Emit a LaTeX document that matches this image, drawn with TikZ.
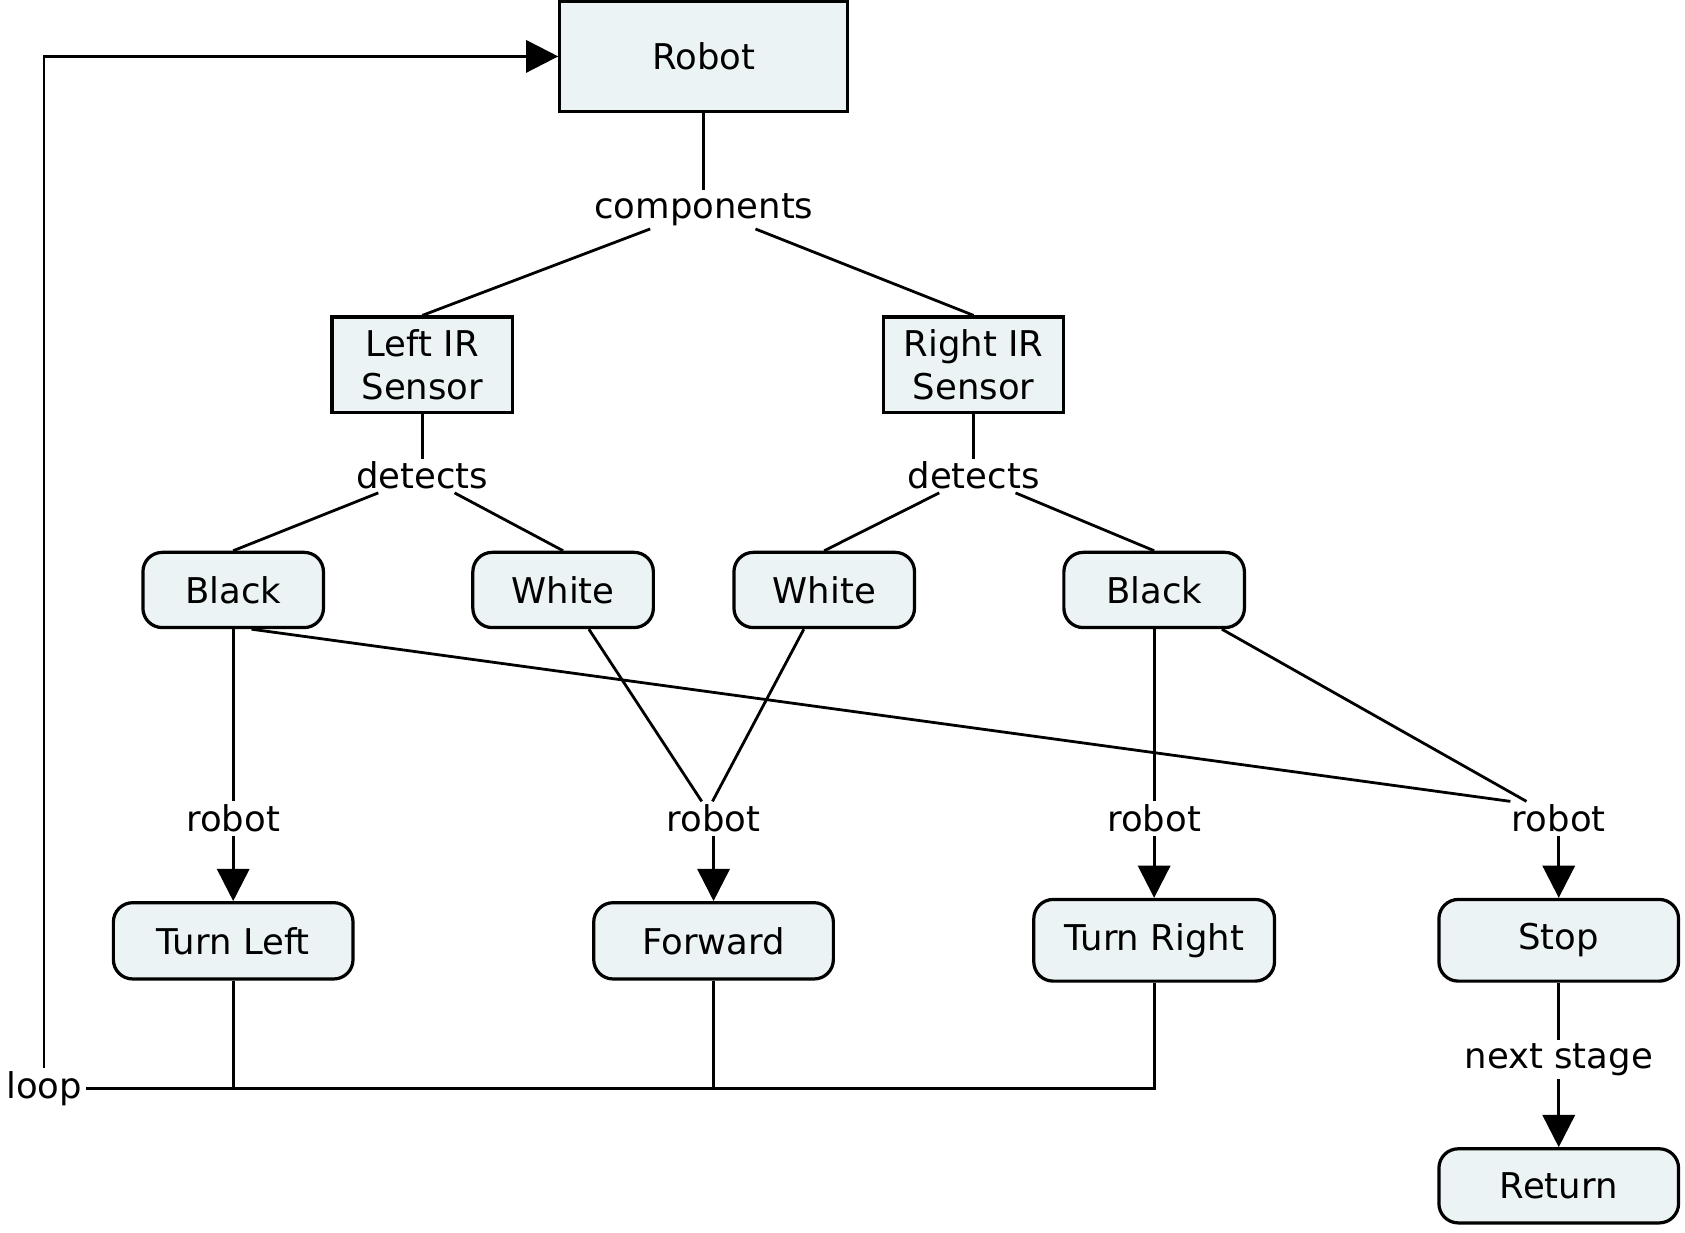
\documentclass[tikz,border=0pt]{standalone}
\usepackage{fontspec}
\setmainfont{DejaVu Sans}
\usetikzlibrary{arrows.meta,calc}
\definecolor{boxfill}{HTML}{EBF3F5}
\begin{document}
\begin{tikzpicture}[x=1pt,y=-1pt,
  every node/.style={font=\fontsize{33}{40}\selectfont},
  concept/.style={draw,line width=3pt,fill=boxfill,align=center,inner sep=0pt},
  sqbox/.style={concept},
  rbox/.style={concept,rounded corners=18pt},
  lbl/.style={inner xsep=4pt,inner ysep=3pt,anchor=base},
  conn/.style={line width=2.6pt},
  arr/.style={conn,-{Triangle[length=30pt,width=30pt]}}]
\fill[white] (0,0) rectangle (1568,1147);
\useasboundingbox (0,0) rectangle (1568,1147);

% concept nodes
\node[sqbox,minimum width=268pt,minimum height=103pt] (robot) at (655,52.5) {Robot};
\node[sqbox,minimum width=168pt,minimum height=89pt] (lsen) at (393,339.5) {Left IR\\Sensor};
\node[sqbox,minimum width=168pt,minimum height=89pt] (rsen) at (906,339.5) {Right IR\\Sensor};
\node[rbox,minimum width=168pt,minimum height=70pt] (black1) at (217,549) {Black};
\node[rbox,minimum width=168pt,minimum height=70pt] (white1) at (524,549) {White};
\node[rbox,minimum width=168pt,minimum height=70pt] (white2) at (767,549) {White};
\node[rbox,minimum width=168pt,minimum height=70pt] (black2) at (1074,549) {Black};
\node[rbox,minimum width=223pt,minimum height=71pt] (tl) at (217,875.5) {Turn Left};
\node[rbox,minimum width=223pt,minimum height=71pt] (fw) at (664,875.5) {Forward};
\node[rbox,minimum width=224pt,minimum height=76pt] (tr) at (1074,875) {Turn Right};
\node[rbox,minimum width=223pt,minimum height=76pt] (stop) at (1450.5,875) {Stop};
\node[rbox,minimum width=223pt,minimum height=69pt] (ret) at (1450.5,1103.5) {Return};

% linking phrases
\node[lbl] (comp) at (655,203) {components};
\node[lbl] (ldet) at (393,455) {detects};
\node[lbl] (rdet) at (906,455) {detects};
\node[lbl] (r1) at (217,774) {robot};
\node[lbl] (r2) at (664,774) {robot};
\node[lbl] (r3) at (1074,774) {robot};
\node[lbl] (r4) at (1450.5,774) {robot};
\node[lbl] (ns) at (1450.5,994) {next stage};
\node[lbl] (loop) at (41,1022) {loop};

% connectors
\draw[conn] (robot.south) -- (comp.north);
\draw[conn] ([xshift=-50pt]comp.south) -- (lsen.north);
\draw[conn] ([xshift=48pt]comp.south) -- (rsen.north);
\draw[conn] (lsen.south) -- (ldet.north);
\draw[conn] (rsen.south) -- (rdet.north);
\draw[conn] ([xshift=-41pt]ldet.south) -- (black1.north);
\draw[conn] ([xshift=30pt]ldet.south) -- (white1.north);
\draw[conn] ([xshift=-32pt]rdet.south) -- (white2.north);
\draw[conn] ([xshift=39pt]rdet.south) -- (black2.north);
\draw[conn] (black1.south) -- (r1.north);
\draw[conn] ([xshift=17pt]black1.south) -- ([xshift=-45pt]r4.north);
\draw[conn] ([xshift=24pt]white1.south) -- ([xshift=-11pt]r2.north);
\draw[conn] ([xshift=-19pt]white2.south) -- ([xshift=-1pt]r2.north);
\draw[conn] (black2.south) -- (r3.north);
\draw[conn] ([xshift=63pt]black2.south) -- ([xshift=-30pt]r4.north);
\draw[arr] (r1.south) -- (tl.north);
\draw[arr] (r2.south) -- (fw.north);
\draw[arr] (r3.south) -- (tr.north);
\draw[arr] (r4.south) -- (stop.north);
\draw[conn] (stop.south) -- (ns.north);
\draw[arr] (ns.south) -- (ret.north);
\draw[conn] (tl.south) -- (tl.south |- loop.east);
\draw[conn] (fw.south) -- (fw.south |- loop.east);
\draw[conn] (loop.east) -- (tr.south |- loop.east) -- (tr.south);
\draw[arr] (loop.north) -- (loop.north |- robot.west) -- (robot.west);
\end{tikzpicture}
\end{document}
